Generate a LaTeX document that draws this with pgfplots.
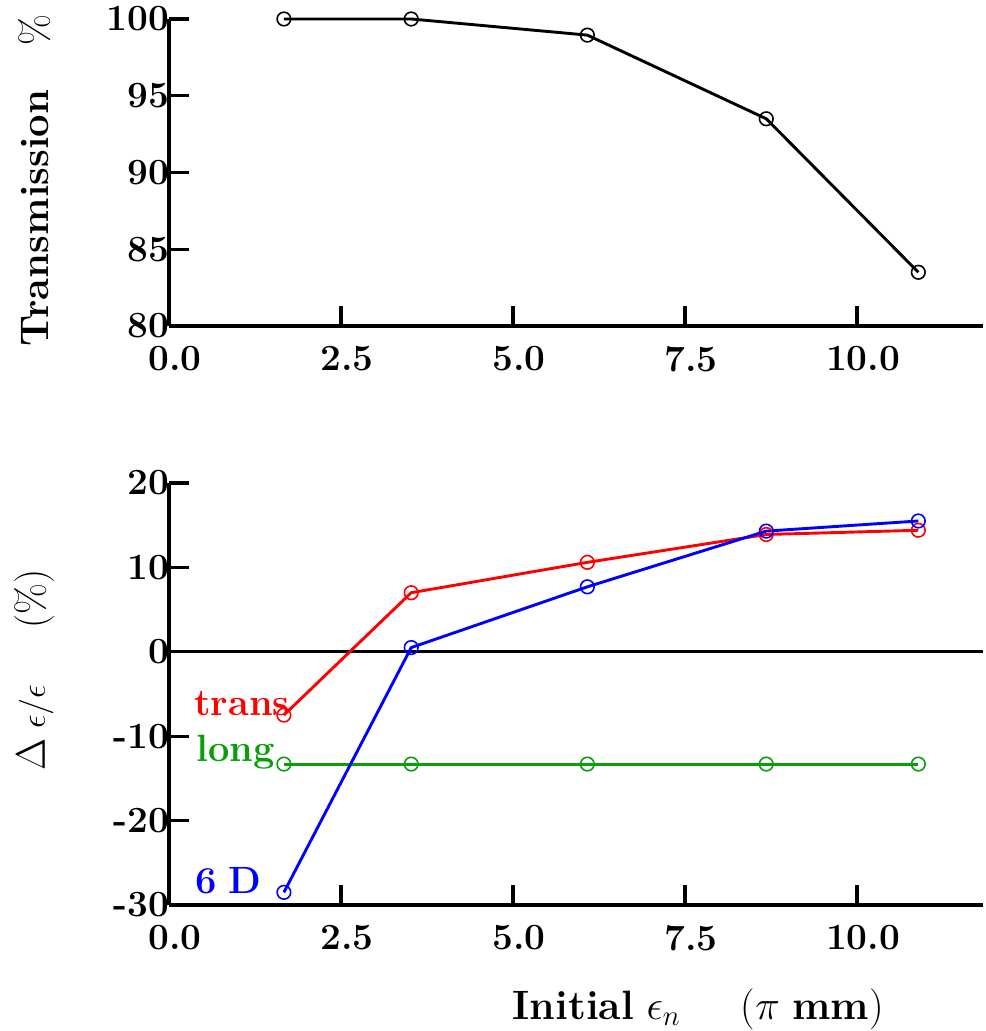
\documentclass[border=0pt]{standalone}
\usepackage{pgfplots}
\pgfplotsset{compat=1.18}
\definecolor{mygreen}{RGB}{10,158,10}
\begin{document}
\begin{tikzpicture}
\useasboundingbox (-84.5pt,-352.5pt) rectangle (408pt,163pt);
\pgfplotsset{
  myaxis/.style={
    scale only axis, width=407pt,
    xmin=0, xmax=11.83,
    axis x line=bottom, axis y line=left,
    axis line style={-, line width=1.6pt, black},
    tick align=inside, major tick length=10pt,
    tick style={line width=1.6pt, black},
    xtick={0,2.5,5,7.5,10},
    xticklabels={0.0,2.5,5.0,7.5,10.0},
    ticklabel style={font=\fontsize{18.5}{22}\selectfont\bfseries},
    xticklabel style={xshift=3pt, yshift=-6.5pt},
    yticklabel style={xshift=3.5pt},
    clip=false,
  },
  mk/.style={line width=1.45pt, mark=o, mark size=3.4pt, mark options={line width=0.8pt}},
}
% top axis
\begin{axis}[myaxis, name=top, at={(0,0)}, anchor=south west, height=153.5pt,
  ymin=80, ymax=100, ytick={80,85,90,95,100},
  yticklabels={80,85,90,95,100}]
\addplot[mk, black] coordinates {(1.67,100) (3.52,100) (6.08,98.95) (8.68,93.5) (10.89,83.5)};
\node[rotate=90, font=\fontsize{20}{24}\selectfont] at ([xshift=-67pt, yshift=-4pt]rel axis cs:0,0.5) {\textbf{Transmission}\hspace{22pt}\%};
\end{axis}
% bottom axis
\begin{axis}[myaxis, name=bot, at={(0,-289.5pt)}, anchor=south west, height=211pt,
  ymin=-30, ymax=20, ytick={-30,-20,-10,0,10,20},
  yticklabels={-30,-20,-10,0,10,20}]
\addplot[black, line width=1.45pt] coordinates {(0,0) (11.83,0)};
\addplot[mk, red] coordinates {(1.67,-7.5) (3.52,7.0) (6.08,10.6) (8.68,13.9) (10.89,14.4)};
\addplot[mk, mygreen] coordinates {(1.67,-13.3) (3.52,-13.3) (6.08,-13.3) (8.68,-13.3) (10.89,-13.3)};
\addplot[mk, blue] coordinates {(1.67,-28.5) (3.52,0.5) (6.08,7.7) (8.68,14.3) (10.89,15.5)};
\node[red, anchor=base east, inner sep=0pt, font=\fontsize{19}{22}\selectfont\bfseries] at (axis cs:1.76,-7.6) {trans};
\node[mygreen, anchor=base east, inner sep=0pt, font=\fontsize{19}{22}\selectfont\bfseries] at (axis cs:1.54,-13.0) {long};
\node[blue, anchor=base east, inner sep=0pt, font=\fontsize{19}{22}\selectfont\bfseries] at (axis cs:1.35,-28.6) {6\hspace{6pt}D};
\node[rotate=90, font=\fontsize{20}{24}\selectfont] at ([xshift=-67pt, yshift=12pt]rel axis cs:0,0.5) {$\Delta$\hspace{5pt}{\fontsize{17}{20}\selectfont$\epsilon/\epsilon$}\hspace{28pt}(\%)};
\node[font=\fontsize{20.5}{24}\selectfont] at ([yshift=-52pt]rel axis cs:0.65,0) {\textbf{Initial} $\epsilon_n$\hspace{30pt}($\pi$ \textbf{mm})};
\end{axis}
\end{tikzpicture}
\end{document}
